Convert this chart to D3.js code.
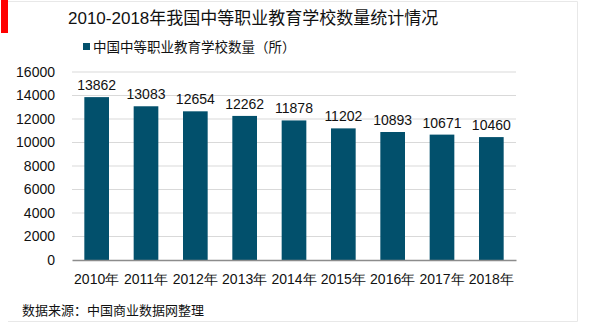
<!DOCTYPE html>
<html><head><meta charset="utf-8">
<script src="https://cdn.jsdelivr.net/npm/d3@7"></script>
<style>
html,body{margin:0;padding:0;background:#fff;}
svg{display:block;font-family:"Liberation Sans",Arial,"Noto Sans CJK SC",sans-serif;}
</style></head>
<body>
<svg id="c" width="600" height="323"></svg>
<script>
const title = "2010-2018年我国中等职业教育学校数量统计情况";
const seriesName = "中国中等职业教育学校数量（所）";
const source = "数据来源：中国商业数据网整理";
const categories = ["2010年","2011年","2012年","2013年","2014年","2015年","2016年","2017年","2018年"];
const values = [13862,13083,12654,12262,11878,11202,10893,10671,10460];
const yTicks = [0,2000,4000,6000,8000,10000,12000,14000,16000];

const svg = d3.select("#c");
const barColor = "#02506c";

// frame
svg.append("path").attr("d","M8,1.5H577.5V321.5H8").attr("fill","none").attr("stroke","#e8e8e8").attr("stroke-width",1);
svg.append("rect").attr("x",1).attr("y",0).attr("width",7).attr("height",33).attr("fill","#ff0000");

svg.append("text").attr("x",68).attr("y",24).attr("font-size",17).attr("fill","#111").text(title);

// legend
svg.append("rect").attr("x",83).attr("y",43).attr("width",7).attr("height",7).attr("fill",barColor);
svg.append("text").attr("x",93).attr("y",52).attr("font-size",13.5).attr("fill","#111").text(seriesName);

const x = d3.scaleBand().domain(categories).range([72,516]).paddingInner(0.5).paddingOuter(0.25);
const y = d3.scaleLinear().domain([0,16000]).range([260,72]);

// gridlines
svg.append("g").selectAll("line").data(yTicks.filter(d=>d>0)).join("line")
  .attr("x1",72).attr("x2",516).attr("y1",d=>y(d)).attr("y2",d=>y(d))
  .attr("stroke","#d9d9d9").attr("stroke-width",1);

// y axis
const ya = svg.append("g").attr("transform","translate(72,0)")
  .call(d3.axisLeft(y).tickValues(yTicks).tickFormat(d3.format("d")).tickSize(0).tickPadding(17));
ya.select(".domain").remove();
ya.selectAll("text").attr("font-size",14).attr("fill","#111").attr("font-family",null);

// bars
svg.append("g").selectAll("rect").data(values).join("rect")
  .attr("x",(d,i)=>x(categories[i])).attr("width",x.bandwidth())
  .attr("y",d=>y(d)).attr("height",d=>y(0)-y(d)).attr("fill",barColor);

// labels
svg.append("g").selectAll("text").data(values).join("text")
  .attr("x",(d,i)=>x(categories[i])+x.bandwidth()/2).attr("y",d=>y(d)-7)
  .attr("text-anchor","middle").attr("font-size",14).attr("fill","#111").text(d=>d);

// x axis
const xa = svg.append("g").attr("transform","translate(0,260)")
  .call(d3.axisBottom(x).tickSize(0).tickPadding(14));
xa.select(".domain").attr("stroke","#8c8c8c").attr("stroke-width",1.5);
xa.selectAll("text").attr("font-size",14).attr("fill","#111").attr("font-family",null);

svg.append("text").attr("x",22).attr("y",315).attr("font-size",13).attr("fill","#111").text(source);
</script>
</body></html>
